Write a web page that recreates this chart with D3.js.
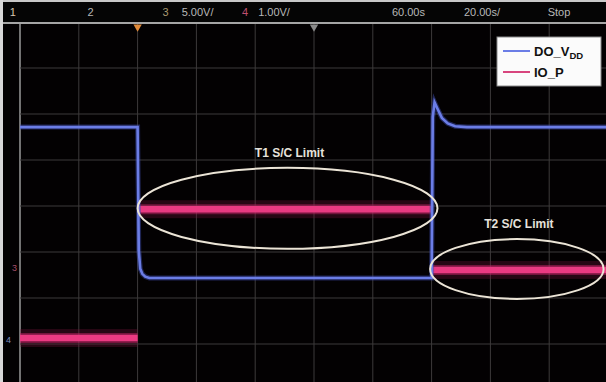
<!DOCTYPE html>
<html><head><meta charset="utf-8">
<script src="https://cdn.jsdelivr.net/npm/d3@7"></script>
<style>
html,body{margin:0;padding:0;background:#000;}
svg{display:block;}
text{font-family:"Liberation Sans",Arial,sans-serif;}
</style></head>
<body>
<script>
// ---- Data (time in s, ch3 in V, ch4 in display units) ----
const gridTimes = [-40,-20,0,20,40,60,80,100,120,140,160];
const gridDivs = [-4,-3,-2,-1,0,1,2,3,4];
const blueTime = [-40, 0, 0.4, 0.9, 1.6, 2.6, 4, 100, 100.4, 101, 102, 103.5, 105.5, 108, 112, 160];
const blueVolts = [16.4, 16.4, 3.0, 1.0, 0.45, 0.15, 0, 0, 17.5, 19.1, 18.4, 17.4, 16.8, 16.5, 16.4, 16.4];
const pinkStart = [-40, 0, 100];
const pinkEnd = [0, 100, 160];
const pinkLevel = [0, 2.8, 1.48];
const headerLabels = ["1","2","3","5.00V/","4","1.00V/","60.00s","20.00s/","Stop"];
const headerTimes = [-43.5, -17, 8.5, 15, 35.5, 41, 86.5, 111, 139.5];
const legendNames = ["DO_V","IO_P"];
const calloutNames = ["T1 S/C Limit","T2 S/C Limit"];
const calloutStart = [0, 99.5];
const calloutEnd = [102, 158.5];
const calloutLevel = [2.82, 1.5];
const calloutHalfHeight = [0.88, 0.65];

// ---- Config ----
const W = 606, H = 382;
const ch3VoltsPerDiv = 5, ch3Offset = -1.565;
const ch4PerDiv = 1, ch4Offset = -2.87;

const svg = d3.select("body").append("svg").attr("width", W).attr("height", H);
svg.append("rect").attr("width", W).attr("height", H).attr("fill", "#030102");

const x = d3.scaleLinear().domain([-40, 160]).range([20, 608]);
const yDiv = d3.scaleLinear().domain([-4, 4]).range([390, 22]);
const yBlue = v => yDiv(v / ch3VoltsPerDiv + ch3Offset);
const yPink = v => yDiv(v / ch4PerDiv + ch4Offset);

// grid
const g = svg.append("g");
g.selectAll("line.v").data(gridTimes).join("line")
  .attr("x1", d => x(d)).attr("x2", d => x(d))
  .attr("y1", yDiv(4)).attr("y2", H)
  .attr("stroke", (d,i) => i === 0 ? "#9a9a9a" : "#3d3a3b").attr("stroke-width", (d,i)=> i===0?1.5:1);
g.selectAll("line.h").data(gridDivs).join("line")
  .attr("x1", x(-40)).attr("x2", W)
  .attr("y1", d => yDiv(d)).attr("y2", d => yDiv(d))
  .attr("stroke", "#3d3a3b").attr("stroke-width", 1);

// header bar
svg.append("rect").attr("x",0).attr("y",0).attr("width",W).attr("height",22).attr("fill","#050505");
svg.append("rect").attr("x",0).attr("y",0).attr("width",W).attr("height",2).attr("fill","#c8c8c8");
svg.append("rect").attr("x",0).attr("y",22).attr("width",W).attr("height",2).attr("fill","#a5a5a5");
svg.append("rect").attr("x",0).attr("y",0).attr("width",3).attr("height",H).attr("fill","#d8d8d8");
const hdrColors = ["#d8c8b0","#b8b8b8","#a89a70","#b8b8b8","#c05070","#b8b8b8","#b8b8b8","#b8b8b8","#b8b8b8"];
svg.selectAll("text.hdr").data(headerLabels).join("text")
  .attr("x", (d,i) => x(headerTimes[i])).attr("y", 16)
  .attr("font-size", 11).attr("fill", (d,i) => hdrColors[i]).text(d => d);

// trigger markers
svg.append("path").attr("d", d3.symbol(d3.symbolTriangle, 30)())
  .attr("transform", `translate(${x(0)},27) rotate(180)`).attr("fill", "#e08a3a");
svg.append("path").attr("d", d3.symbol(d3.symbolTriangle, 30)())
  .attr("transform", `translate(${x(60)},27) rotate(180)`).attr("fill", "#8a8a8a");

// left channel markers
svg.append("text").attr("x", 12).attr("y", yPink(1.45)).attr("font-size", 9).attr("fill", "#a8506a").text("3");
svg.append("text").attr("x", 6).attr("y", yPink(-0.1)).attr("font-size", 9).attr("fill", "#8090c0").text("4");

// pink trace (noise band + core)
const pinkIdx = d3.range(pinkLevel.length);
svg.selectAll("rect.band").data(pinkIdx).join("rect")
  .attr("x", i => x(pinkStart[i])).attr("width", i => x(pinkEnd[i]) - x(pinkStart[i]))
  .attr("y", i => yPink(pinkLevel[i]) - 9).attr("height", 18)
  .attr("fill", "#7a1840").attr("opacity", 0.3);
svg.selectAll("line.pinkglow").data(pinkIdx).join("line")
  .attr("x1", i => x(pinkStart[i])).attr("x2", i => x(pinkEnd[i]))
  .attr("y1", i => yPink(pinkLevel[i])).attr("y2", i => yPink(pinkLevel[i]))
  .attr("stroke", "#c02466").attr("stroke-width", 10).attr("opacity", 0.5);
svg.selectAll("line.pink").data(pinkIdx).join("line")
  .attr("x1", i => x(pinkStart[i])).attr("x2", i => x(pinkEnd[i]))
  .attr("y1", i => yPink(pinkLevel[i])).attr("y2", i => yPink(pinkLevel[i]))
  .attr("stroke", "#ea3a82").attr("stroke-width", 6.5);

// blue trace
const bluePts = blueTime.map((t,i) => [t, blueVolts[i]]);
const blueLine = d3.line().x(d => x(d[0])).y(d => yBlue(d[1]));
svg.append("path").attr("d", blueLine(bluePts)).attr("fill","none")
  .attr("stroke","#3c4aa8").attr("stroke-width",5).attr("opacity",0.5);
svg.append("path").attr("d", blueLine(bluePts)).attr("fill","none")
  .attr("stroke","#6b7de6").attr("stroke-width",2.6);

// callout ellipses
const cIdx = d3.range(calloutNames.length);
svg.selectAll("ellipse.c").data(cIdx).join("ellipse")
  .attr("cx", i => (x(calloutStart[i]) + x(calloutEnd[i])) / 2)
  .attr("cy", i => yPink(calloutLevel[i]))
  .attr("rx", i => (x(calloutEnd[i]) - x(calloutStart[i])) / 2)
  .attr("ry", i => yDiv(0) - yDiv(calloutHalfHeight[i]))
  .attr("fill", "none").attr("stroke", "#ebe4d6").attr("stroke-width", 2);
svg.selectAll("text.c").data(cIdx).join("text")
  .attr("x", i => (x(calloutStart[i]) + x(calloutEnd[i])) / 2 + 2)
  .attr("y", i => yPink(calloutLevel[i]) - (yDiv(0) - yDiv(calloutHalfHeight[i])) - 11)
  .attr("text-anchor", "middle").attr("font-size", 12).attr("font-weight", "bold")
  .attr("fill", "#e6e2dc").text(i => calloutNames[i]);

// legend
const lg = svg.append("g").attr("transform", "translate(497,37)");
lg.append("rect").attr("width", 104).attr("height", 49).attr("fill", "#fbfbfb").attr("stroke", "#8a8a8a");
const legColors = ["#6b7de6", "#d8457e"];
lg.selectAll("line").data(legendNames).join("line")
  .attr("x1", 6).attr("x2", 33).attr("y1", (d,i) => 14 + i*21).attr("y2", (d,i) => 14 + i*21)
  .attr("stroke", (d,i) => legColors[i]).attr("stroke-width", 2);
const lt = lg.selectAll("text").data(legendNames).join("text")
  .attr("x", 37).attr("y", (d,i) => 19 + i*21)
  .attr("font-size", 13).attr("font-weight", "bold").attr("fill", "#111");
lt.append("tspan").text(d => d);
lt.filter((d,i) => i === 0).append("tspan").attr("font-size", 9.5).attr("dy", 3).text("DD");
</script>
</body></html>
